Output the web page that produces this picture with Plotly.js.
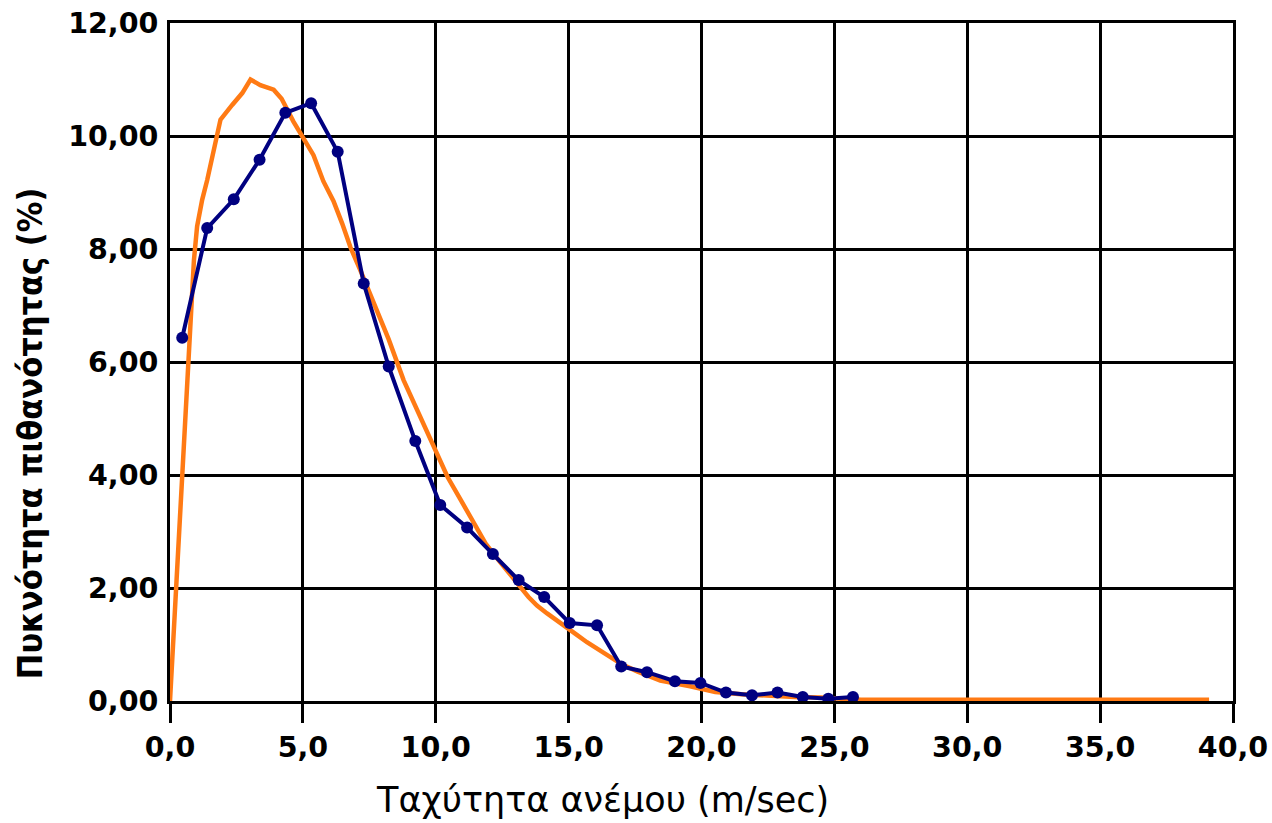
<!DOCTYPE html>
<html>
<head>
<meta charset="utf-8">
<script src="https://cdn.plot.ly/plotly-3.0.1.min.js"></script>
<style>html,body{margin:0;padding:0;background:#fff;}#chart{width:1272px;height:823px;}</style>
</head>
<body>
<div id="chart"></div>
<script>
// Observed (blue, with markers)
const observedSpeed = [0.46, 1.40, 2.40, 3.37, 4.34, 5.31, 6.31, 7.29, 8.23, 9.23, 10.17, 11.18, 12.15, 13.12, 14.08, 15.04, 16.07, 16.98, 17.95, 19.00, 19.96, 20.92, 21.90, 22.86, 23.81, 24.77, 25.70];
const observedDensity = [6.43, 8.37, 8.88, 9.58, 10.41, 10.58, 9.72, 7.39, 5.92, 4.60, 3.47, 3.07, 2.60, 2.14, 1.84, 1.38, 1.34, 0.61, 0.51, 0.35, 0.32, 0.15, 0.10, 0.15, 0.07, 0.04, 0.07];

// Fitted curve (orange)
const fitSpeed = [0, 0.4, 0.81, 0.9, 1.02, 1.21, 1.4, 1.59, 1.84, 1.9, 2.34, 2.72, 3.03, 3.4, 3.9, 4.2, 4.64, 5.02, 5.4, 5.77, 6.15, 6.48, 6.79, 7.2, 7.7, 8.23, 8.79, 9.3, 9.9, 10.45, 10.95, 11.43, 11.9, 12.37, 12.81, 13.18, 13.49, 13.81, 14.19, 14.56, 14.94, 15.31, 15.69, 16.19, 16.57, 17.0, 17.6, 18.19, 18.45, 19.57, 20.14, 20.52, 21.5, 22.5, 23.5, 24.5, 25.1, 26.0, 39.1];
const fitDensity = [0, 3.6, 7.1, 7.8, 8.4, 8.87, 9.22, 9.61, 10.11, 10.29, 10.55, 10.76, 11.0, 10.9, 10.82, 10.66, 10.26, 9.96, 9.66, 9.2, 8.85, 8.45, 8.03, 7.58, 7.03, 6.4, 5.68, 5.15, 4.52, 3.96, 3.55, 3.14, 2.77, 2.49, 2.22, 2.02, 1.84, 1.69, 1.55, 1.43, 1.31, 1.17, 1.04, 0.89, 0.76, 0.65, 0.52, 0.41, 0.36, 0.26, 0.2, 0.16, 0.12, 0.09, 0.07, 0.06, 0.05, 0.02, 0.02];

const xTitle = 'Ταχύτητα ανέμου (m/sec)';
const yTitle = 'Πυκνότητα πιθανότητας (%)';

const traces = [
  {
    x: fitSpeed, y: fitDensity, type: 'scatter', mode: 'lines',
    line: {color: '#FF7A14', width: 4.5}, hoverinfo: 'skip', showlegend: false
  },
  {
    x: observedSpeed, y: observedDensity, type: 'scatter', mode: 'lines+markers',
    line: {color: '#000080', width: 4},
    marker: {color: '#000080', size: 12, symbol: 'circle'},
    showlegend: false
  }
];

const tickFont = {family: 'DejaVu Sans, sans-serif', size: 28.5, color: '#000', weight: 'bold'};

const layout = {
  width: 1272, height: 823,
  margin: {l: 170, r: 39, t: 23, b: 122, pad: 0},
  paper_bgcolor: '#fff', plot_bgcolor: '#fff',
  separators: ',.',
  showlegend: false,
  xaxis: {
    range: [0, 40], dtick: 5, tick0: 0, tickformat: '.1f',
    showgrid: true, gridcolor: '#000', gridwidth: 3,
    showline: true, linecolor: '#000', linewidth: 3, mirror: true,
    zeroline: false,
    ticks: 'outside', ticklen: 19, tickwidth: 3, tickcolor: '#000',
    tickfont: tickFont, fixedrange: true
  },
  yaxis: {
    range: [0, 12], dtick: 2, tick0: 0, tickformat: '.2f',
    showgrid: true, gridcolor: '#000', gridwidth: 3,
    showline: true, linecolor: '#000', linewidth: 3, mirror: true,
    zeroline: false, ticks: '', ticklabelstandoff: 3,
    tickfont: tickFont, fixedrange: true
  },
  annotations: [
    {
      text: xTitle, xref: 'paper', yref: 'paper', x: 0.4069, y: -0.146,
      xanchor: 'center', yanchor: 'middle', showarrow: false,
      font: {family: 'DejaVu Sans, sans-serif', size: 35, color: '#000'}
    },
    {
      text: yTitle, xref: 'paper', yref: 'paper', x: -0.1317, y: 0.395,
      xanchor: 'center', yanchor: 'middle', showarrow: false, textangle: -90,
      font: {family: 'DejaVu Sans Condensed, Liberation Sans Narrow, DejaVu Sans, sans-serif', size: 34, color: '#000', weight: 'bold'}
    }
  ]
};

Plotly.newPlot('chart', traces, layout, {staticPlot: true, displayModeBar: false});
</script>
</body>
</html>
